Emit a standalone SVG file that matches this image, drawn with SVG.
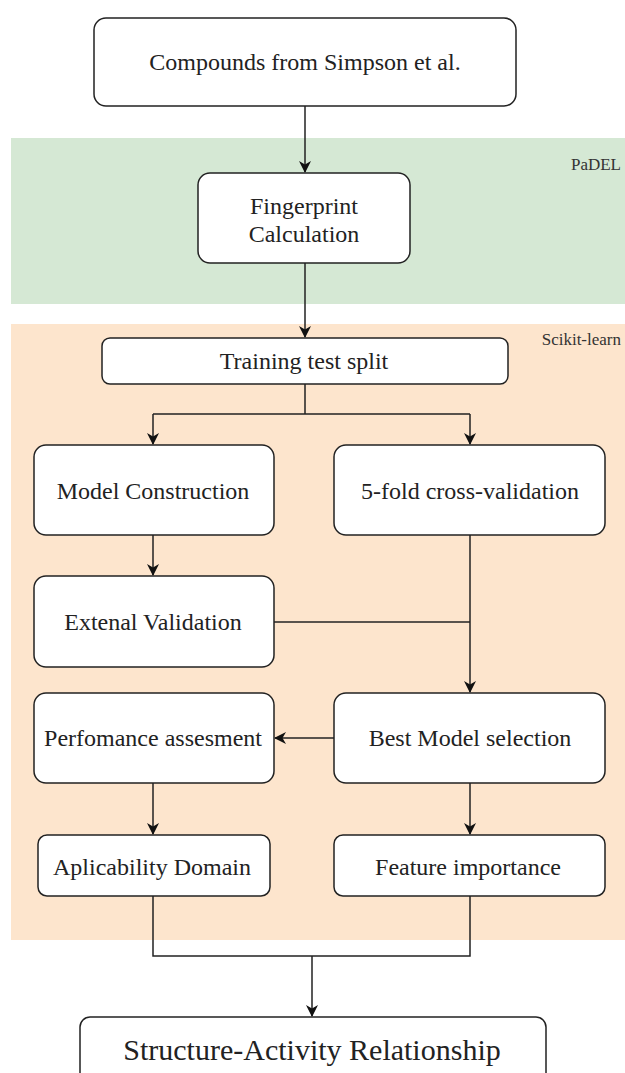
<svg xmlns="http://www.w3.org/2000/svg" width="625" height="1073" viewBox="0 0 625 1073">
<style>
.box{fill:#ffffff;stroke:#222222;stroke-width:1.5}
.t{font-family:"Liberation Serif","Times New Roman",serif;font-size:24px;fill:#222222;text-anchor:middle;dominant-baseline:central}
.lbl{font-family:"Liberation Serif","Times New Roman",serif;font-size:17px;fill:#333333;text-anchor:end;dominant-baseline:central}
.c{fill:none;stroke:#222222;stroke-width:1.5}
</style>
<defs>
<marker id="ah" viewBox="0 0 12 12" refX="11" refY="6" markerWidth="12" markerHeight="12" markerUnits="userSpaceOnUse" orient="auto">
<path d="M0,0 L12,6 L0,12 L3.5,6 Z" fill="#111111"/>
</marker>
</defs>
<g id="bands">
<rect x="11" y="138" width="614" height="166" fill="#d5e8d4"/>
<rect x="11" y="324" width="614" height="616" fill="#fde5cd"/>
<text class="lbl" x="621" y="164">PaDEL</text>
<text class="lbl" x="621" y="339">Scikit-learn</text>
</g>
<g id="connectors">
<path class="c" d="M305,106 L305,172" marker-end="url(#ah)"/>
<path class="c" d="M305,263 L305,337" marker-end="url(#ah)"/>
<path class="c" d="M305,384 L305,414 M153,414 L470,414"/>
<path class="c" d="M153,414 L153,444" marker-end="url(#ah)"/>
<path class="c" d="M470,414 L470,444" marker-end="url(#ah)"/>
<path class="c" d="M153,535 L153,575" marker-end="url(#ah)"/>
<path class="c" d="M274,622 L470,622"/>
<path class="c" d="M470,535 L470,692" marker-end="url(#ah)"/>
<path class="c" d="M334,738 L275,738" marker-end="url(#ah)"/>
<path class="c" d="M153,783 L153,834" marker-end="url(#ah)"/>
<path class="c" d="M470,783 L470,834" marker-end="url(#ah)"/>
<path class="c" d="M153,896 L153,956 L470,956 L470,896"/>
<path class="c" d="M312,956 L312,1016" marker-end="url(#ah)"/>
</g>
<g id="n_compounds">
<rect class="box" x="94" y="18" width="422" height="88" rx="12"/>
<text class="t" x="305" y="62">Compounds from Simpson et al.</text>
</g>
<g id="n_fingerprint">
<rect class="box" x="198" y="173" width="212" height="90" rx="12"/>
<text class="t" x="304" y="206">Fingerprint</text>
<text class="t" x="304" y="234">Calculation</text>
</g>
<g id="n_split">
<rect class="box" x="102" y="338" width="406" height="46" rx="8"/>
<text class="t" x="304" y="361">Training test split</text>
</g>
<g id="n_model">
<rect class="box" x="34" y="445" width="240" height="90" rx="12"/>
<text class="t" x="153" y="491">Model Construction</text>
</g>
<g id="n_cv">
<rect class="box" x="334" y="445" width="271" height="90" rx="12"/>
<text class="t" x="470" y="491">5-fold cross-validation</text>
</g>
<g id="n_extval">
<rect class="box" x="34" y="576" width="240" height="91" rx="12"/>
<text class="t" x="153" y="622">Extenal Validation</text>
</g>
<g id="n_perf">
<rect class="box" x="34" y="693" width="240" height="90" rx="12"/>
<text class="t" x="153" y="738">Perfomance assesment</text>
</g>
<g id="n_best">
<rect class="box" x="334" y="693" width="271" height="90" rx="12"/>
<text class="t" x="470" y="738">Best Model selection</text>
</g>
<g id="n_ad">
<rect class="box" x="38" y="835" width="232" height="61" rx="9"/>
<text class="t" x="152" y="867">Aplicability Domain</text>
</g>
<g id="n_fi">
<rect class="box" x="334" y="835" width="271" height="61" rx="9"/>
<text class="t" x="468" y="867">Feature importance</text>
</g>
<g id="n_sar">
<rect class="box" x="80" y="1017" width="466" height="70" rx="10"/>
<text class="t" x="312" y="1049" style="font-size:30px">Structure-Activity Relationship</text>
</g>
</svg>
